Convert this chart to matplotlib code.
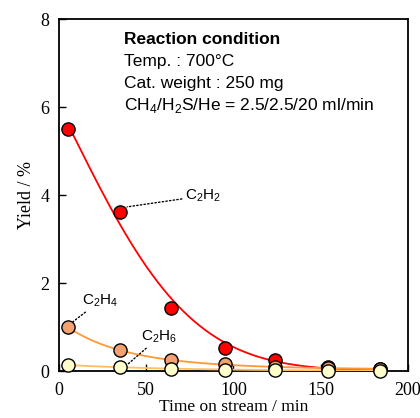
import numpy as np
import matplotlib
matplotlib.use("Agg")
import matplotlib.pyplot as plt

# Values
time_min = [5, 35, 64, 95, 124, 154, 184]
c2h2_yield = [5.5, 3.62, 1.43, 0.53, 0.25, 0.08, 0.05]
c2h4_yield = [1.0, 0.47, 0.24, 0.16, 0.10, 0.06, 0.04]
c2h6_yield = [0.14, 0.08, 0.05, 0.03, 0.03, 0.01, 0.01]

x_ticks = [0, 50, 100, 150, 200]
y_ticks = [0, 2, 4, 6, 8]

condition_lines = [
    "Temp. : 700°C",
    "Cat. weight : 250 mg",
    r"CH$_4$/H$_2$S/He = 2.5/2.5/20 ml/min",
]

SERIF = "Liberation Serif"
SANS = "Liberation Sans"
plt.rcParams["mathtext.fontset"] = "custom"
plt.rcParams["mathtext.rm"] = SANS


def decay_curve(t, y, deg, wpow):
    """Smooth trend line through the measured points (fit in log space)"""
    t = np.asarray(t, float)
    y = np.asarray(y, float)
    coef = np.polyfit(t, np.log(y), deg, w=y ** wpow)
    tt = np.linspace(t[0], t[-1], 300)
    return tt, np.exp(np.polyval(coef, tt))


fig = plt.figure(figsize=(4.2, 4.18), dpi=100)
ax = fig.add_axes([0.1405, 0.1124, 0.8305, 0.8421])

series = [
    (c2h2_yield, "#ff0000", "#ff0000", 2, 0.7),
    (c2h4_yield, "#f4a070", "#ff9933", 2, 1.0),
    (c2h6_yield, "#ffffcc", "#ffc060", 1, 1.0),
]

for i, (vals, face, line_col, deg, wpow) in enumerate(series):
    tt, yy = decay_curve(time_min, vals, deg, wpow)
    ax.plot(tt, yy, color=line_col, lw=1.3, zorder=2 + i)
for i, (vals, face, line_col, deg, wpow) in enumerate(series):
    ax.plot(time_min, vals, "o", ms=9.5, mfc=face, mec="black", mew=1.0,
            clip_on=False, zorder=5 + i)

# Annotations with dotted leader lines
lead = dict(arrowstyle="-", linestyle=":", color="black", lw=1.0,
            shrinkA=0, shrinkB=0)
ax.annotate(r"C$_2$H$_2$", xy=(39, 3.73), xytext=(72, 3.98), fontsize=11,
            family=SANS, va="center", ha="left", arrowprops=lead)
ax.annotate(r"C$_2$H$_4$", xy=(8, 1.12), xytext=(13, 1.40), fontsize=11,
            family=SANS, va="bottom", ha="left", arrowprops=lead)
ax.annotate(r"C$_2$H$_6$", xy=(39, 0.14), xytext=(47, 0.58), fontsize=11,
            family=SANS, va="bottom", ha="left", arrowprops=lead)

# Reaction condition box text
ax.text(37, 7.54, "Reaction condition", fontsize=12.5, fontweight="bold",
        family=SANS, va="center", ha="left")
for k, line in enumerate(condition_lines):
    ax.text(37, 7.04 - 0.5 * k, line, fontsize=12.5, family=SANS,
            va="center", ha="left")

ax.set_xlim(0, 200)
ax.set_ylim(0, 8)
ax.set_xticks(x_ticks)
ax.set_yticks(y_ticks)
ax.tick_params(direction="in", length=5, width=1.0, labelsize=13)
ax.tick_params(axis="x", pad=8)
ax.tick_params(axis="y", pad=7)
for lab in ax.get_xticklabels() + ax.get_yticklabels():
    lab.set_family(SERIF)
for sp in ax.spines.values():
    sp.set_linewidth(1.3)

ax.set_xlabel("Time on stream / min", family=SERIF, fontsize=12.5, labelpad=0)
ax.set_ylabel("Yield / %", family=SERIF, fontsize=13, labelpad=4)

fig.savefig("out.png", dpi=100)
